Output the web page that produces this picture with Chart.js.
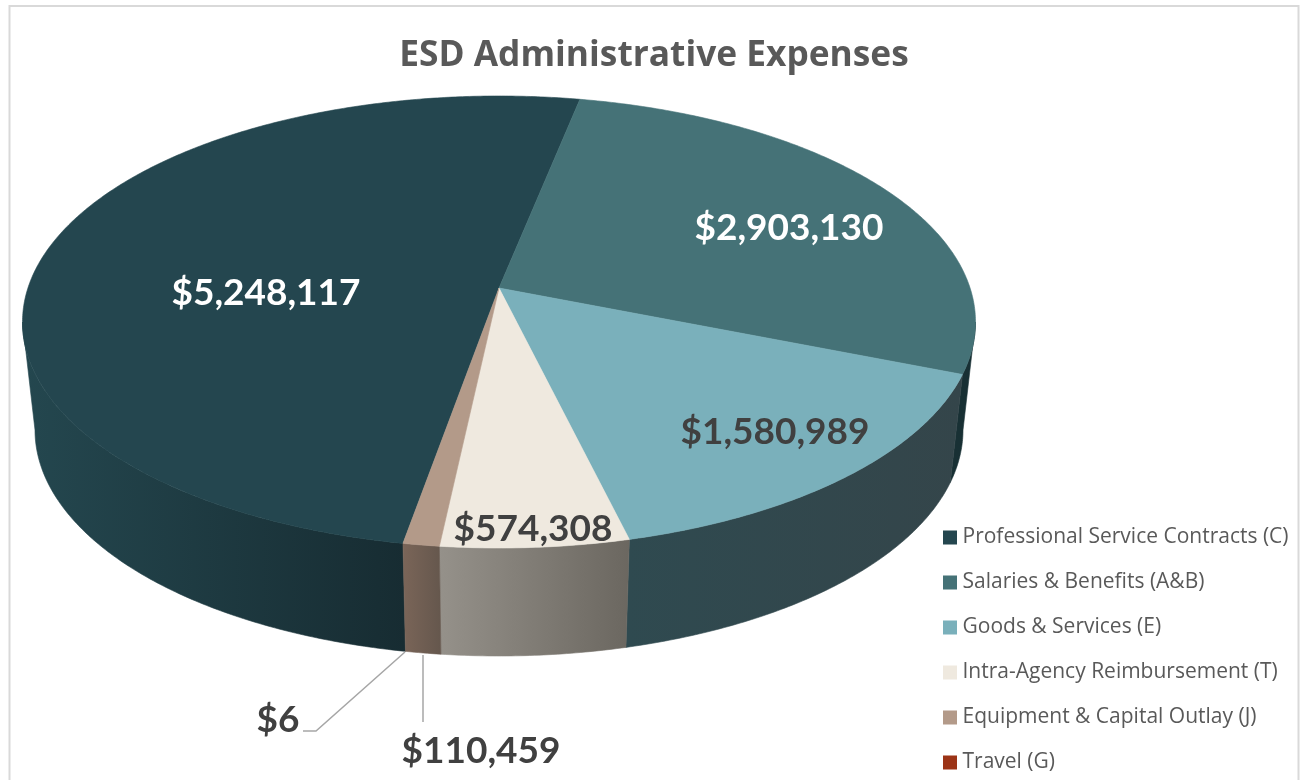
<!DOCTYPE html>
<html>
<head>
<meta charset="utf-8">
<style>html,body{margin:0;padding:0;background:#fff;overflow:hidden}#wrap{width:1301px;height:780px}</style>
<script src="https://cdn.jsdelivr.net/npm/chart.js@4/dist/chart.umd.js"></script>
</head>
<body>
<div id="wrap"><canvas id="c" width="1301" height="780"></canvas></div>
<script>
const categories = ['Professional Service Contracts (C)','Salaries & Benefits (A&B)','Goods & Services (E)','Intra-Agency Reimbursement (T)','Equipment & Capital Outlay (J)','Travel (G)'];
const expenses = [5248117,2903130,1580989,574308,110459,6];
const topColors = ['#24464f','#457277','#7ab0bb','#efe9df','#b39a89','#9c3417'];
const wallLeftColors = ['#24474f','#183034','#2f4a50','#95918a','#7a6558','#5c2312'];
const wallRightColors = ['#172c32','#183034','#34454a','#6b6760','#65574d','#5c2312'];
const labelColors = ['#ffffff','#ffffff','#404040','#404040','#404040','#404040'];
const labelCenters = [[266,293],[789,228],[775,432],[533,529],[481,751],[278,720]];
const leaderLines = [null,null,null,null,[[423,655],[423,722]],[[405,652],[316,731],[303,731]]];
const startRotation = 190;

// Perspective disc: top face and bottom face of the 3-D pie.
const topDisc = {cx:499, cy:322, rx:476.5, ry:226, apexLift:34};
const bottomDisc = {cx:499, cy:430, rx:464, ry:226, apexLift:34};
function project(d, angle){
  const q = d.apexLift/d.ry, X = Math.cos(angle), Y = -Math.sin(angle);
  const den = 1 + q*Y, a = d.rx*Math.sqrt(1-q*q);
  return [d.cx + a*X/den, d.cy - (d.ry*Y + d.apexLift)/den];
}
const apex = d => [d.cx, d.cy - d.apexLift];
const STEP = Math.PI/360;
function arcPath(ctx, d, a0, a1, first){
  const n = Math.max(1, Math.ceil(Math.abs(a1-a0)/STEP));
  for(let i=0;i<=n;i++){
    const p = project(d, a0+(a1-a0)*i/n);
    if(i===0 && first) ctx.moveTo(p[0],p[1]); else ctx.lineTo(p[0],p[1]);
  }
}
const MIN_STROKED = 0.01;
// Slices keep the library's computed angles; only the projection is custom.
const Arc = Chart.registry.getElement('arc');
Arc.prototype.draw = function(ctx){
  const c = this.options.backgroundColor, ap = apex(topDisc);
  ctx.save();
  ctx.beginPath(); ctx.moveTo(ap[0],ap[1]);
  arcPath(ctx, topDisc, this.startAngle, this.endAngle, false);
  ctx.closePath();
  ctx.fillStyle = c; ctx.strokeStyle = c; ctx.lineWidth = .6; ctx.lineJoin='round';
  ctx.fill();
  if(this.endAngle - this.startAngle > MIN_STROKED) ctx.stroke();
  ctx.restore();
};

const pie3d = {
  id:'pie3d',
  beforeDraw(chart){
    const ctx = chart.ctx;
    ctx.save();
    ctx.fillStyle='#fff'; ctx.fillRect(0,0,chart.width,chart.height);
    ctx.strokeStyle='#d9d9d9'; ctx.lineWidth=2;
    ctx.beginPath(); ctx.moveTo(9.5,chart.height+2); ctx.lineTo(9.5,6); ctx.lineTo(1298.5,6); ctx.lineTo(1298.5,chart.height+2); ctx.stroke();
    ctx.restore();
  },
  afterLayout(chart){
    const l = chart.legend, w = l.width, h = l.height;
    l.left = 924; l.right = l.left + w;
    l.top = 503; l.bottom = l.top + h;
    const t = chart.titleBlock;
    t.left += 3.5; t.right += 3.5;
  },
  beforeDatasetsDraw(chart){
    const ctx = chart.ctx, arcs = chart.getDatasetMeta(0).data;
    const q = topDisc.apexLift/topDisc.ry, tilt = Math.asin(q);
    // camera-facing range of the rim, in canvas radians
    const from = tilt, to = Math.PI - tilt;
    ctx.save();
    arcs.forEach((arc,i)=>{
      if(arc.endAngle - arc.startAngle <= MIN_STROKED) return;
      for(const off of [0, 2*Math.PI, -2*Math.PI]){
        const a0 = Math.max(arc.startAngle+off, from), a1 = Math.min(arc.endAngle+off, to);
        if(a1 <= a0) continue;
        const pts = [project(topDisc,a0),project(topDisc,a1),project(bottomDisc,a0),project(bottomDisc,a1)];
        const xs = pts.map(p=>p[0]);
        const g = ctx.createLinearGradient(Math.min(...xs),0,Math.max(...xs),0);
        g.addColorStop(0,wallLeftColors[i]); g.addColorStop(1,wallRightColors[i]);
        ctx.beginPath();
        arcPath(ctx, topDisc, a0, a1, true);
        arcPath(ctx, bottomDisc, a1, a0, false);
        ctx.closePath();
        ctx.fillStyle = g; ctx.strokeStyle = g; ctx.lineWidth=.6;
        ctx.fill(); ctx.stroke();
      }
    });
    ctx.restore();
  },
  afterDatasetsDraw(chart){
    const ctx = chart.ctx;
    ctx.save();
    ctx.strokeStyle='#a6a6a6'; ctx.lineWidth=1.5;
    leaderLines.forEach(l=>{
      if(!l) return;
      ctx.beginPath(); l.forEach((p,i)=> i?ctx.lineTo(p[0],p[1]):ctx.moveTo(p[0],p[1])); ctx.stroke();
    });
    ctx.font='bold 37px Lato'; ctx.textAlign='center'; ctx.textBaseline='middle';
    expenses.forEach((v,i)=>{
      ctx.fillStyle=labelColors[i];
      ctx.fillText('$'+v.toLocaleString('en-US'), labelCenters[i][0], labelCenters[i][1]);
    });
    ctx.restore();
  }
};

new Chart(document.getElementById('c'),{
  type:'pie',
  data:{labels:categories,datasets:[{data:expenses,backgroundColor:topColors,borderWidth:0}]},
  plugins:[pie3d],
  options:{
    responsive:false,animation:false,rotation:startRotation,events:[],
    plugins:{
      tooltip:{enabled:false},
      title:{display:true,text:'ESD Administrative Expenses',color:'#595959',font:{family:'Open Sans',size:35.3,weight:'bold'},padding:{top:35,bottom:10}},
      legend:{position:'right',align:'start',labels:{
        boxWidth:4,boxHeight:4,padding:24,color:'#595959',font:{family:'Open Sans',size:21},
        generateLabels:()=>categories.map((t,i)=>({text:t,fillStyle:topColors[i],strokeStyle:topColors[i],lineWidth:10,fontColor:'#595959',hidden:false,index:i}))
      }}
    }
  }
});
</script>
</body>
</html>
